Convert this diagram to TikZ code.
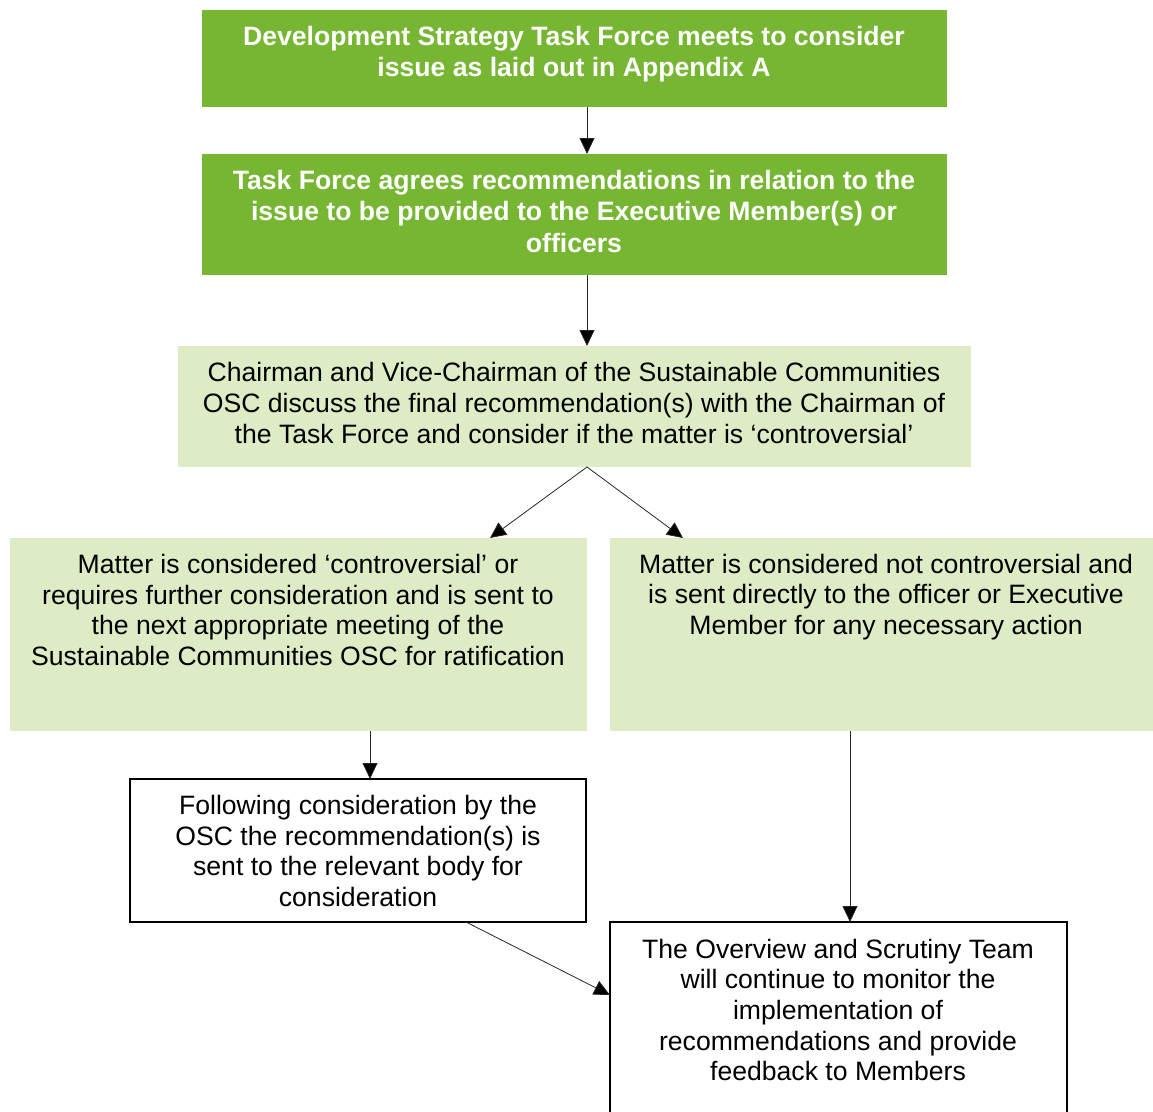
\documentclass[tikz,border=0pt]{standalone}
\usepackage{fontspec}
\setmainfont{Liberation Sans}
\usetikzlibrary{arrows.meta}
\definecolor{darkgreen}{RGB}{118,182,50}
\definecolor{lightgreen}{RGB}{222,236,198}
\begin{document}
\begin{tikzpicture}[x=1pt,y=-1pt,
  box/.style={rectangle,inner sep=0pt,outer sep=0pt,anchor=north west},
  dark/.style={box,fill=darkgreen},
  light/.style={box,fill=lightgreen},
  plain/.style={box,draw=black,line width=1.8pt,fill=white},
  txt/.style={inner sep=0pt,align=center,font=\fontsize{26.6}{30.6}\selectfont},
  btxt/.style={txt,text=white,font=\fontsize{26.6}{31.5}\selectfont\bfseries},
  conn/.style={draw=black!85,line width=0.8pt,-{Triangle[length=16pt,width=15pt,fill=black]}}]
\useasboundingbox (0,0) rectangle (1153,1111);
\clip (0,0) rectangle (1153,1111);
% boxes
\node[dark,minimum width=745pt,minimum height=97pt] (b1) at (202,10) {};
\node[dark,minimum width=745pt,minimum height=121pt] (b2) at (202,154) {};
\node[light,minimum width=793pt,minimum height=121pt] (b3) at (178,346) {};
\node[light,minimum width=577pt,minimum height=193pt] (b4) at (10,538) {};
\node[light,minimum width=543pt,minimum height=193pt] (b5) at (610,538) {};
\node[plain,minimum width=456pt,minimum height=143pt] (b6) at (130,779) {};
\node[plain,minimum width=457pt,minimum height=240pt] (b7) at (610,922) {};
% texts
\node[btxt] (t1) at (574,54) {Development Strategy Task Force meets to consider\\issue as laid out in Appendix A};
\node[btxt] (t2) at (574,211) {Task Force agrees recommendations in relation to the\\issue to be provided to the Executive Member(s) or\\officers};
\node[txt] (t3) at (574,403) {Chairman and Vice-Chairman of the Sustainable Communities\\OSC discuss the final recommendation(s) with the Chairman of\\the Task Force and consider if the matter is ‘controversial’};
\node[txt] (t4) at (298,610) {Matter is considered ‘controversial’ or\\requires further consideration and is sent to\\the next appropriate meeting of the\\Sustainable Communities OSC for ratification};
\node[txt] (t5) at (886,597) {Matter is considered not controversial and\\is sent directly to the officer or Executive\\Member for any necessary action};
\node[txt] (t6) at (358,851) {Following consideration by the\\OSC the recommendation(s) is\\sent to the relevant body for\\consideration};
\node[txt] (t7) at (838,1010) {The Overview and Scrutiny Team\\will continue to monitor the\\implementation of\\recommendations and provide\\feedback to Members};
% connector end points
\coordinate (s1) at (587,107);
\coordinate (e2) at (587,154);
\coordinate (s2) at (587,275);
\coordinate (e3) at (587,346);
\coordinate (s3) at (587,467);
\coordinate (e4) at (490,538);
\coordinate (e5) at (683,538);
\coordinate (s4) at (370,731);
\coordinate (e6) at (370,779);
\coordinate (s5) at (850,731);
\coordinate (e7) at (850,922);
\coordinate (s6) at (466,922);
\coordinate (e7b) at (610,995);
\draw[conn] (s1) -- (e2);
\draw[conn] (s2) -- (e3);
\draw[conn] (s3) -- (e4);
\draw[conn] (s3) -- (e5);
\draw[conn] (s4) -- (e6);
\draw[conn] (s5) -- (e7);
\draw[conn] (s6) -- (e7b);
\end{tikzpicture}
\end{document}
